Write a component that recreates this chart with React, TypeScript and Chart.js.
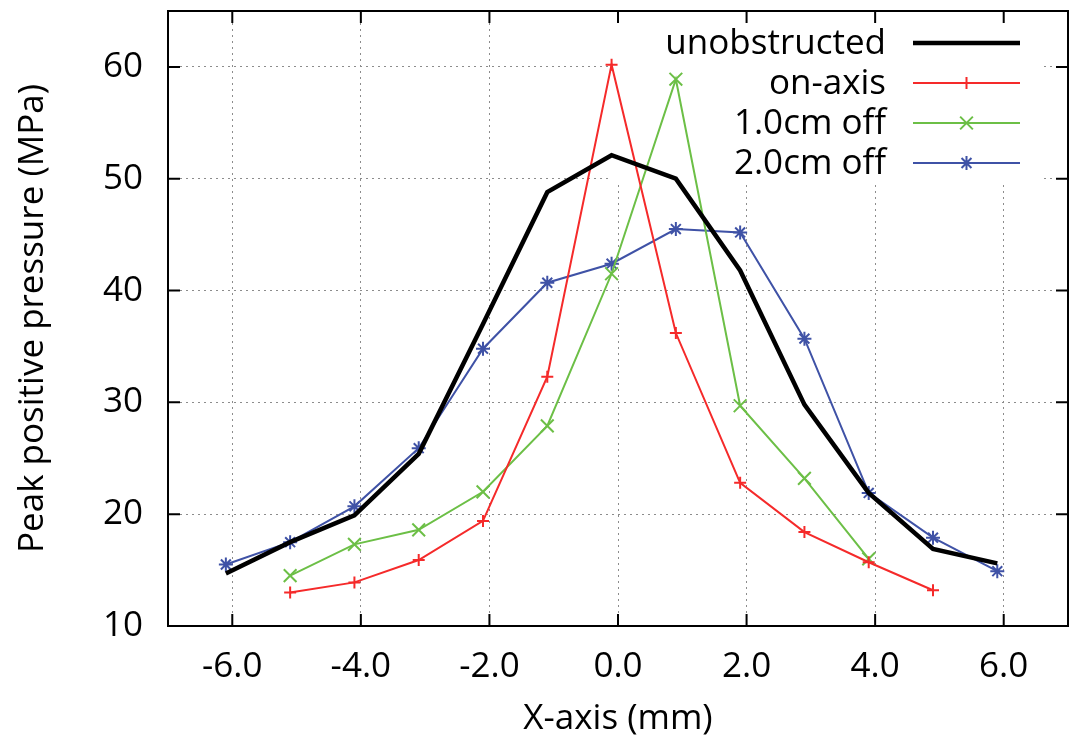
import React, { useEffect, useRef } from 'react';
import { Chart, registerables } from 'chart.js';

Chart.register(...registerables);

const FONT = '"Open Sans", "Noto Sans", sans-serif';

const xPositions = [-6.1, -5.1, -4.1, -3.1, -2.1, -1.1, -0.1, 0.9, 1.9, 2.9, 3.9, 4.9, 5.9];
const unobstructed = [14.7, 17.5, 19.9, 25.4, 37.0, 48.8, 52.1, 50.0, 41.8, 29.8, 21.9, 16.9, 15.6];
const onAxis = [null, 13.0, 13.9, 15.9, 19.4, 32.3, 60.2, 36.2, 22.8, 18.4, 15.7, 13.2, null];
const off10 = [null, 14.5, 17.3, 18.6, 22.0, 27.9, 41.5, 58.9, 29.7, 23.2, 16.0, null, null];
const off20 = [15.5, 17.5, 20.7, 25.9, 34.8, 40.7, 42.4, 45.5, 45.2, 35.7, 21.9, 17.9, 14.9];
const seriesLabels = ['unobstructed', 'on-axis', '1.0cm off', '2.0cm off'];
const xTicks = [-6, -4, -2, 0, 2, 4, 6];
const yTicks = [10, 20, 30, 40, 50, 60];

const COLORS = ['#000000', '#f52a2a', '#6cbf46', '#3f52a6'];

function toPoints(vals: (number | null)[]) {
  return xPositions.map((x, i) => ({ x, y: vals[i] }));
}

function drawMarker(ctx: CanvasRenderingContext2D, style: string, x: number, y: number, r: number) {
  ctx.beginPath();
  if (style === 'cross' || style === 'star') {
    ctx.moveTo(x - r, y); ctx.lineTo(x + r, y);
    ctx.moveTo(x, y - r); ctx.lineTo(x, y + r);
  }
  if (style === 'crossRot' || style === 'star') {
    const d = r * Math.SQRT1_2;
    ctx.moveTo(x - d, y - d); ctx.lineTo(x + d, y + d);
    ctx.moveTo(x - d, y + d); ctx.lineTo(x + d, y - d);
  }
  ctx.stroke();
}

const framePlugin = {
  id: 'frame',
  beforeDatasetsDraw(chart: any) {
    const { ctx, chartArea } = chart;
    ctx.save();
    ctx.fillStyle = '#ffffff';
    // opaque key box covering the grid
    ctx.fillRect(612, chartArea.top + 1, chartArea.right - 25 - 612, 184 - chartArea.top);
    ctx.restore();
  },
  afterDatasetsDraw(chart: any) {
    const { ctx, chartArea, scales, data } = chart;
    const { left, right, top, bottom } = chartArea;
    ctx.save();
    // border
    ctx.strokeStyle = '#000';
    ctx.lineWidth = 2;
    ctx.strokeRect(left, top, right - left, bottom - top);
    // inward ticks
    ctx.beginPath();
    const tl = 12;
    for (const v of xTicks) {
      const px = scales.x.getPixelForValue(v);
      ctx.moveTo(px, bottom); ctx.lineTo(px, bottom - tl);
      ctx.moveTo(px, top); ctx.lineTo(px, top + tl);
    }
    for (const v of yTicks) {
      const py = scales.y.getPixelForValue(v);
      ctx.moveTo(left, py); ctx.lineTo(left + tl, py);
      ctx.moveTo(right, py); ctx.lineTo(right - tl, py);
    }
    ctx.stroke();

    // legend (gnuplot style: right-aligned text, sample on right)
    const textRight = right - 182;
    const sx0 = right - 155;
    const sx1 = right - 48;
    ctx.font = `35px ${FONT}`;
    ctx.textAlign = 'right';
    ctx.textBaseline = 'middle';
    data.datasets.forEach((ds: any, i: number) => {
      const y = top + 32 + i * 40;
      ctx.fillStyle = '#000';
      ctx.fillText(ds.label, textRight, y + 1);
      ctx.strokeStyle = ds.borderColor;
      ctx.lineWidth = ds.borderWidth;
      ctx.beginPath();
      ctx.moveTo(sx0, y); ctx.lineTo(sx1, y);
      ctx.stroke();
      if (ds.pointStyle && ds.pointRadius > 0) {
        ctx.lineWidth = ds.pointBorderWidth;
        drawMarker(ctx, ds.pointStyle, (sx0 + sx1) / 2, y, ds.pointRadius);
      }
    });
    ctx.restore();
  },
};

export default function App() {
  const ref = useRef<HTMLCanvasElement | null>(null);

  useEffect(() => {
    if (!ref.current) return;
    const tickFont = { family: FONT, size: 35 };
    const chart = new Chart(ref.current, {
      type: 'line',
      data: {
        datasets: [
          {
            label: seriesLabels[0],
            data: toPoints(unobstructed),
            borderColor: COLORS[0],
            backgroundColor: COLORS[0],
            borderWidth: 4.5,
            pointRadius: 0,
            pointStyle: false as any,
            borderJoinStyle: 'miter',
          },
          {
            label: seriesLabels[1],
            data: toPoints(onAxis),
            borderColor: COLORS[1],
            backgroundColor: COLORS[1],
            borderWidth: 2,
            pointStyle: 'cross',
            pointRadius: 6,
            pointBorderWidth: 2,
            pointBorderColor: COLORS[1],
          },
          {
            label: seriesLabels[2],
            data: toPoints(off10),
            borderColor: COLORS[2],
            backgroundColor: COLORS[2],
            borderWidth: 2,
            pointStyle: 'crossRot',
            pointRadius: 9,
            pointBorderWidth: 2,
            pointBorderColor: COLORS[2],
          },
          {
            label: seriesLabels[3],
            data: toPoints(off20),
            borderColor: COLORS[3],
            backgroundColor: COLORS[3],
            borderWidth: 2,
            pointStyle: 'star',
            pointRadius: 7,
            pointBorderWidth: 2,
            pointBorderColor: COLORS[3],
          },
        ] as any,
      },
      options: {
        responsive: false,
        animation: false,
        layout: { padding: { top: 10, right: -1, left: 0, bottom: 0 } },
        plugins: { legend: { display: false }, tooltip: { enabled: false } },
        elements: { line: { tension: 0 } },
        scales: {
          x: {
            type: 'linear',
            min: -7,
            max: 7,
            afterBuildTicks: (s: any) => { s.ticks = xTicks.map((v) => ({ value: v })); },
            afterFit: (s: any) => {
              s.height = 122;
              s.paddingLeft = 0; s.paddingRight = 0; s.paddingTop = 0; s.paddingBottom = 0;
            },
            grid: { color: '#8c8c8c', lineWidth: 1, drawTicks: false },
            border: { display: false, dash: [2, 4] },
            ticks: {
              padding: 20,
              color: '#000',
              font: tickFont,
              maxRotation: 0,
              callback: (v: any) => Number(v).toFixed(1),
            },
            title: {
              display: true,
              text: 'X-axis (mm)',
              color: '#000',
              font: tickFont,
              padding: { top: 0, bottom: 8 },
            },
          },
          y: {
            type: 'linear',
            min: 10,
            max: 65,
            afterBuildTicks: (s: any) => { s.ticks = yTicks.map((v) => ({ value: v })); },
            afterFit: (s: any) => {
              s.width = 168;
              s.paddingLeft = 0; s.paddingRight = 0; s.paddingTop = 0; s.paddingBottom = 0;
            },
            grid: { color: '#8c8c8c', lineWidth: 1, drawTicks: false },
            border: { display: false, dash: [2, 4] },
            ticks: {
              padding: 25,
              color: '#000',
              font: tickFont,
              callback: (v: any) => String(v),
            },
            title: {
              display: true,
              text: 'Peak positive pressure (MPa)',
              color: '#000',
              font: tickFont,
              padding: { top: 12, bottom: 0 },
            },
          },
        },
      } as any,
      plugins: [framePlugin],
    });
    return () => chart.destroy();
  }, []);

  return (
    <div style={{ position: 'fixed', left: 0, top: 0, width: 1079, height: 748, background: '#fff' }}>
      <canvas ref={ref} width={1079} height={748} style={{ display: 'block' }} />
    </div>
  );
}
